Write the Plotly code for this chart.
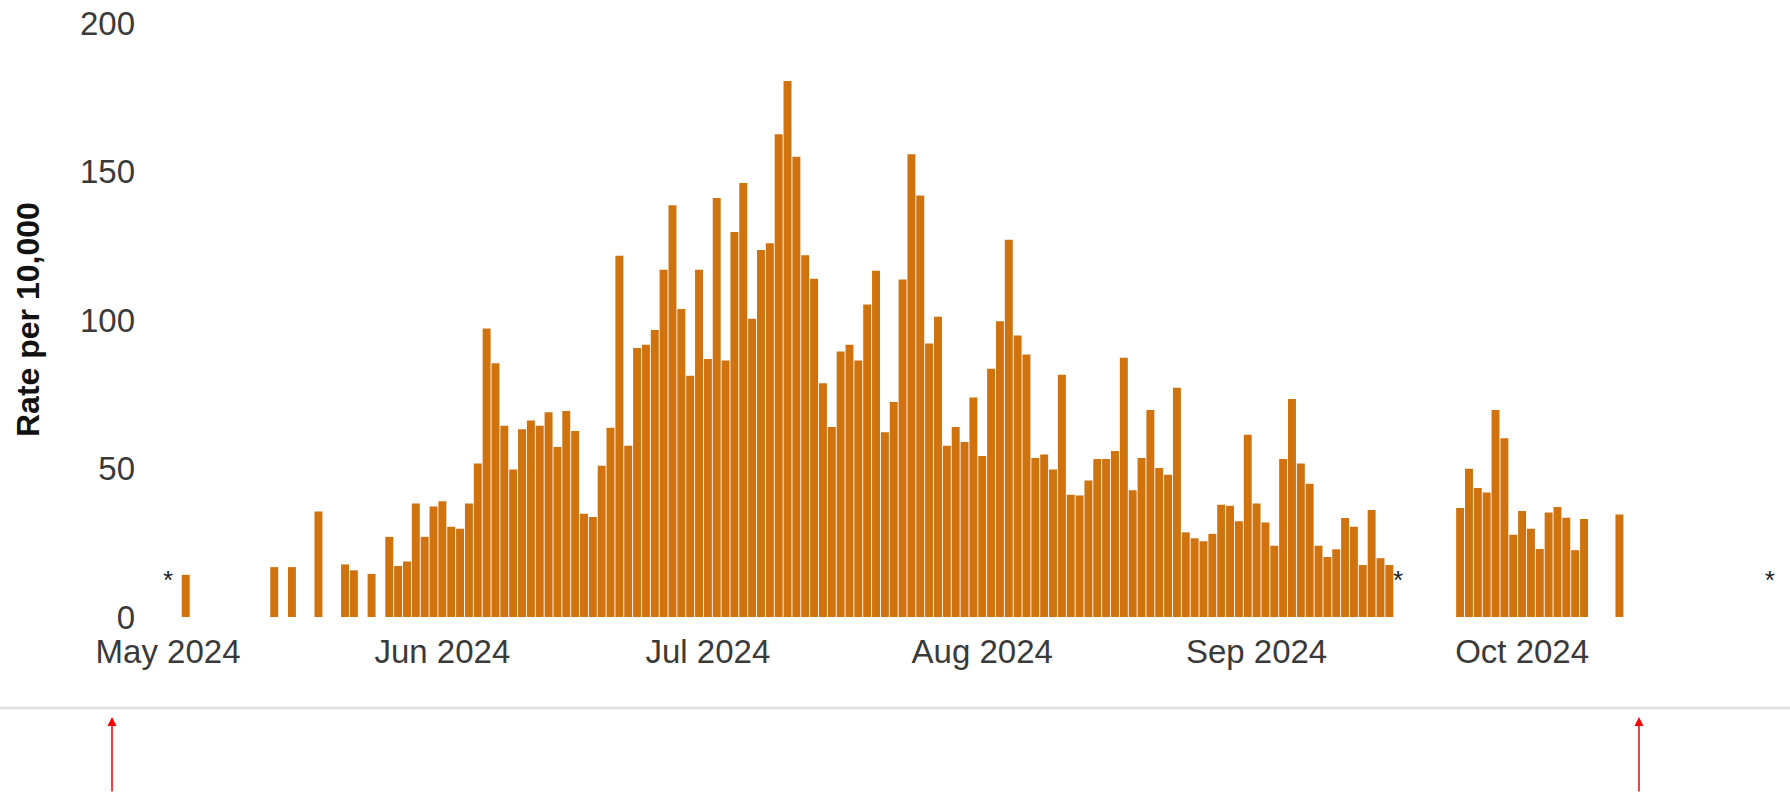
import plotly.graph_objects as go

# ---- data (rate per 10,000, by day) ----
may_days = [3, 13, 15, 18, 21, 22, 24, 26, 27, 28, 29, 30, 31]
may_vals = [14.2, 16.8, 16.8, 35.5, 17.7, 15.7, 14.5, 27.0, 17.2, 18.7, 38.2, 27.0, 37.2]

jun_days = list(range(1, 31))
jun_vals = [39.0, 30.4, 29.7, 38.2, 51.7, 97.1, 85.4, 64.4, 49.7, 63.2,
            66.2, 64.4, 68.9, 57.2, 69.4, 62.6, 34.8, 33.7, 50.9, 63.7,
            121.6, 57.7, 90.6, 91.7, 96.6, 116.9, 138.6, 103.7, 81.2, 116.9]

jul_days = list(range(1, 32))
jul_vals = [86.9, 141.1, 86.4, 129.6, 146.1, 100.4, 123.6, 125.8, 162.5, 180.5,
            155.0, 121.8, 113.9, 78.7, 64.0, 89.4, 91.7, 86.4, 105.2, 116.6,
            62.2, 72.4, 113.6, 155.8, 141.9, 92.1, 101.1, 57.7, 64.0, 58.9, 73.9]

aug_days = list(range(1, 32))
aug_vals = [54.2, 83.6, 99.6, 127.0, 94.8, 88.4, 53.5, 54.7, 49.7, 81.6,
            41.2, 40.9, 46.0, 53.2, 53.2, 55.9, 87.3, 42.7, 53.5, 69.7,
            50.2, 47.9, 77.2, 28.5, 26.5, 25.5, 28.0, 37.8, 37.5, 32.2, 61.4]

sep_days = [1, 2, 3, 4, 5, 6, 7, 8, 9, 10, 11, 12, 13, 14, 15, 16,
            24, 25, 26, 27, 28, 29, 30]
sep_vals = [38.2, 31.8, 24.0, 53.2, 73.4, 51.7, 44.9, 24.0, 20.2, 22.8,
            33.3, 30.4, 17.5, 36.0, 19.8, 17.5,
            36.7, 49.9, 43.4, 41.9, 69.7, 60.2, 27.7]

oct_days = [1, 2, 3, 4, 5, 6, 7, 8, 12]
oct_vals = [35.7, 29.7, 22.9, 35.2, 37.0, 33.4, 22.5, 33.0, 34.5]

# suppressed-value markers
star_dates = ["2024-05-01", "2024-09-17", "2024-10-29"]
star_level = [11.5, 11.5, 11.5]

month_ticks = ["2024-05-01", "2024-06-01", "2024-07-01", "2024-08-01",
               "2024-09-01", "2024-10-01"]
month_labels = ["May 2024", "Jun 2024", "Jul 2024", "Aug 2024",
                "Sep 2024", "Oct 2024"]
y_ticks = [0, 50, 100, 150, 200]

# ---- assemble ----
dates, values = [], []
for m, days, vals in [(5, may_days, may_vals), (6, jun_days, jun_vals),
                      (7, jul_days, jul_vals), (8, aug_days, aug_vals),
                      (9, sep_days, sep_vals), (10, oct_days, oct_vals)]:
    for d, v in zip(days, vals):
        dates.append(f"2024-{m:02d}-{d:02d}")
        values.append(v)

W, H = 1790, 798
ML, MR, MT, MB = 140, 5, 23, 181
PW, PH = W - ML - MR, H - MT - MB

def px_x(p):  # pixel -> paper x
    return (p - ML) / PW

def px_y(p):  # pixel -> paper y
    return (H - MB - p) / PH

FONT = "Liberation Sans, Arial, sans-serif"

fig = go.Figure()
fig.add_trace(go.Bar(x=dates, y=values, marker=dict(color="#d0730f", line=dict(width=0)),
                     hovertemplate="%{x|%d %b %Y}: %{y}<extra></extra>"))
fig.add_trace(go.Scatter(x=star_dates, y=star_level, mode="text", text=["*"] * len(star_dates),
                         textfont=dict(family=FONT, size=26, color="#222222"),
                         textposition="middle center", hoverinfo="skip"))

fig.update_layout(
    width=W, height=H,
    margin=dict(l=ML, r=MR, t=MT, b=MB, pad=0),
    paper_bgcolor="white", plot_bgcolor="white",
    showlegend=False, bargap=0.1,
    font=dict(family=FONT, size=33, color="#3a3a3a"),
    xaxis=dict(type="date", range=["2024-04-27 20:00", "2024-10-30 17:00"],
               tickvals=month_ticks, ticktext=month_labels,
               showgrid=False, zeroline=False, showline=False, ticks="",
               ticklabelstandoff=12,
               tickfont=dict(size=33, color="#3a3a3a")),
    yaxis=dict(range=[0, 200], tickvals=y_ticks, showgrid=False, zeroline=False,
               showline=False, ticks="", ticklabelstandoff=4,
               tickfont=dict(size=33, color="#3a3a3a")),
    shapes=[dict(type="line", xref="paper", yref="paper",
                 x0=px_x(0), x1=px_x(W), y0=px_y(708), y1=px_y(708),
                 line=dict(color="#e3e3e3", width=3))],
    annotations=[
        dict(text="<b>Rate per 10,000</b>", xref="paper", yref="paper",
             x=px_x(28), y=0.5, textangle=-90, showarrow=False,
             xanchor="center", yanchor="middle",
             font=dict(family=FONT, size=32, color="#111111")),
        dict(text="", xref="paper", yref="paper", x=px_x(112), y=px_y(717),
             ax=0, ay=76, showarrow=True, arrowhead=2, arrowsize=1.2,
             arrowwidth=1.5, arrowcolor="#ff0000"),
        dict(text="", xref="paper", yref="paper", x=px_x(1639), y=px_y(717),
             ax=0, ay=76, showarrow=True, arrowhead=2, arrowsize=1.2,
             arrowwidth=1.5, arrowcolor="#ff0000"),
    ],
)

fig.write_html("out.html", config={"displayModeBar": False},
               post_script="document.body.style.margin='0';document.body.style.overflow='hidden';")
